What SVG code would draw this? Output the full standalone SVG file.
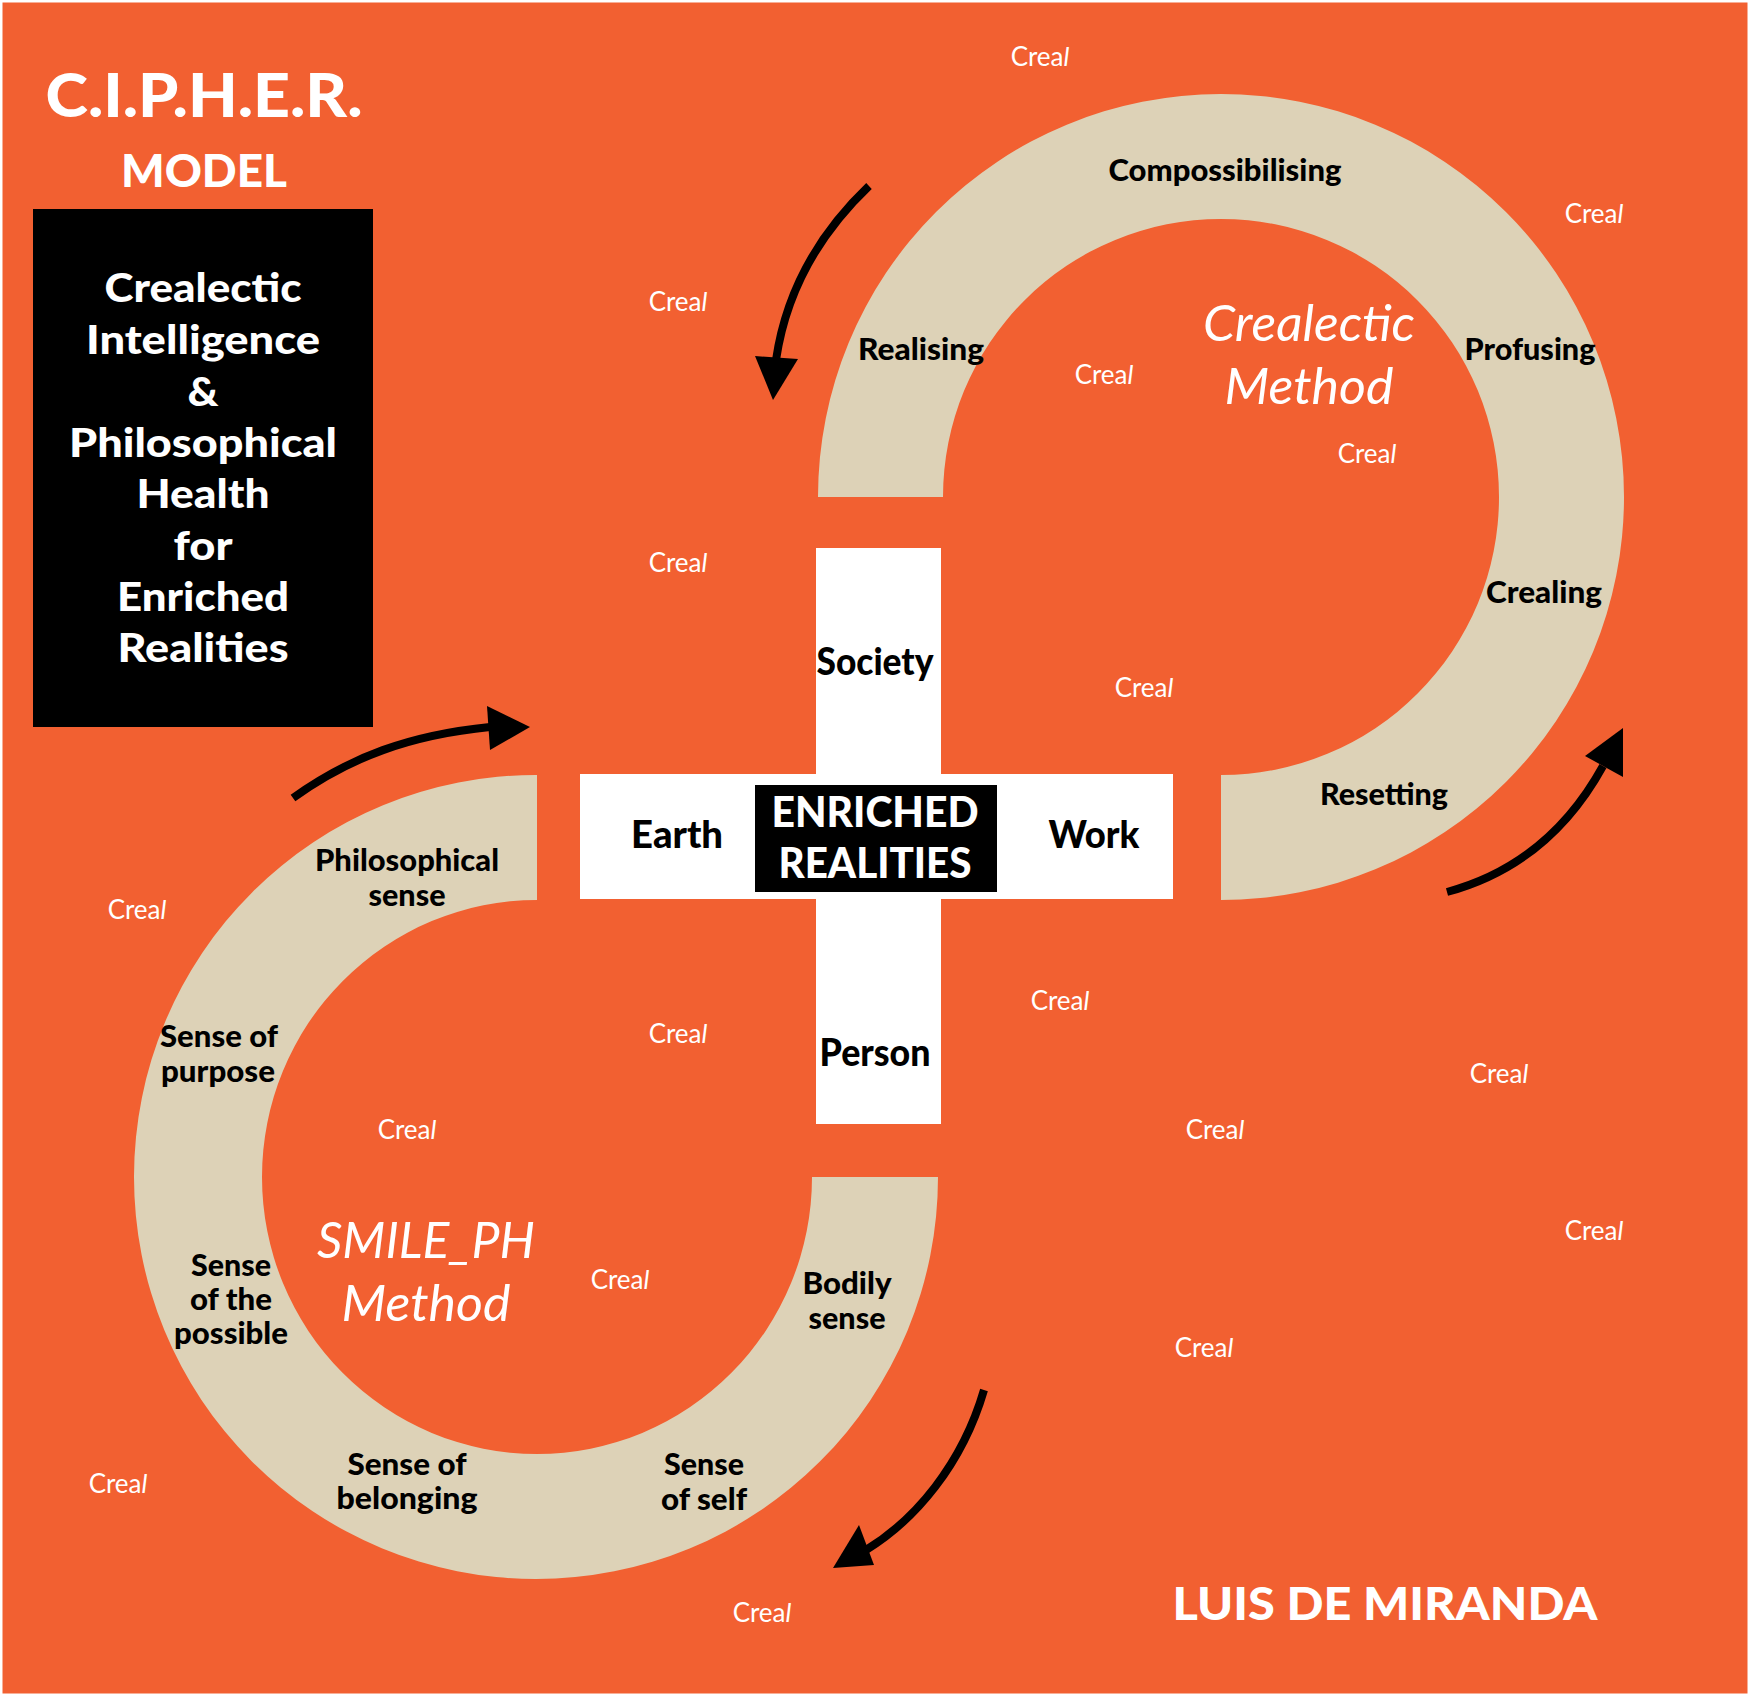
<svg xmlns="http://www.w3.org/2000/svg" width="1750" height="1696" viewBox="0 0 1750 1696">
<style>
text{font-family:Lato,"Liberation Sans",sans-serif;text-anchor:middle}
.w{fill:#fff;font-weight:900}
.l{fill:#000;font-weight:900;font-size:30px}
.b{fill:#000;font-weight:900;font-size:37px}
.t{fill:#fff;font-weight:900;font-size:40px}
.c{fill:#fff;font-size:26px;font-weight:400}
.c tspan{font-style:italic}
.m{fill:#fff;font-size:50px;font-style:italic;font-weight:400}
.ring{fill:#DDD2B7}
.cross{fill:#fff}
.stem{fill:none;stroke:#000;stroke-width:8}
.head{fill:#000}
</style>
<rect width="1750" height="1696" fill="#fff"/>
<rect x="2.5" y="2.5" width="1745" height="1691" fill="#F26031"/>
<g id="title">
<text class="w" x="204" y="117" font-size="60" textLength="317" lengthAdjust="spacingAndGlyphs">C.I.P.H.E.R.</text>
<text class="w" x="204" y="187" font-size="45" textLength="166" lengthAdjust="spacingAndGlyphs">MODEL</text>
</g>
<g id="title-box">
<rect x="33" y="209" width="340" height="518" fill="#000"/>
<text class="t" x="203" y="302" textLength="197" lengthAdjust="spacingAndGlyphs">Crealectic</text>
<text class="t" x="203" y="354" textLength="234" lengthAdjust="spacingAndGlyphs">Intelligence</text>
<text class="t" x="203" y="406" textLength="31" lengthAdjust="spacingAndGlyphs">&amp;</text>
<text class="t" x="203" y="457" textLength="268" lengthAdjust="spacingAndGlyphs">Philosophical</text>
<text class="t" x="203" y="508" textLength="133" lengthAdjust="spacingAndGlyphs">Health</text>
<text class="t" x="203" y="560" textLength="59" lengthAdjust="spacingAndGlyphs">for</text>
<text class="t" x="203" y="611" textLength="172" lengthAdjust="spacingAndGlyphs">Enriched</text>
<text class="t" x="203" y="662" textLength="171" lengthAdjust="spacingAndGlyphs">Realities</text>
</g>
<g id="crealectic-ring">
<path class="ring" d="M818 497A403 403 0 1 1 1221 900V775A278 278 0 1 0 943 497Z"/>
<text class="l" x="1225" y="181" textLength="233" lengthAdjust="spacingAndGlyphs">Compossibilising</text>
<text class="l" x="921" y="360" textLength="126" lengthAdjust="spacingAndGlyphs">Realising</text>
<text class="l" x="1530" y="360" textLength="131" lengthAdjust="spacingAndGlyphs">Profusing</text>
<text class="l" x="1544" y="603" textLength="116" lengthAdjust="spacingAndGlyphs">Crealing</text>
<text class="l" x="1384" y="805" textLength="128" lengthAdjust="spacingAndGlyphs">Resetting</text>
<text class="m" x="1309" y="341" textLength="212" lengthAdjust="spacingAndGlyphs">Crealectic</text>
<text class="m" x="1309" y="404" textLength="169" lengthAdjust="spacingAndGlyphs">Method</text>
</g>
<g id="smile-ring">
<path class="ring" d="M537 775A402 402 0 1 0 938 1177H812A275 277 0 1 1 537 900Z"/>
<text class="l" x="407" y="871" textLength="184" lengthAdjust="spacingAndGlyphs">Philosophical</text>
<text class="l" x="407" y="906" textLength="77" lengthAdjust="spacingAndGlyphs">sense</text>
<text class="l" x="219" y="1047" textLength="118" lengthAdjust="spacingAndGlyphs">Sense of</text>
<text class="l" x="218" y="1082" textLength="114" lengthAdjust="spacingAndGlyphs">purpose</text>
<text class="l" x="231" y="1276" textLength="80" lengthAdjust="spacingAndGlyphs">Sense</text>
<text class="l" x="231" y="1310" textLength="82" lengthAdjust="spacingAndGlyphs">of the</text>
<text class="l" x="231" y="1344" textLength="114" lengthAdjust="spacingAndGlyphs">possible</text>
<text class="l" x="407" y="1475" textLength="119" lengthAdjust="spacingAndGlyphs">Sense of</text>
<text class="l" x="407" y="1509" textLength="141" lengthAdjust="spacingAndGlyphs">belonging</text>
<text class="l" x="704" y="1475" textLength="80" lengthAdjust="spacingAndGlyphs">Sense</text>
<text class="l" x="704" y="1510" textLength="86" lengthAdjust="spacingAndGlyphs">of self</text>
<text class="l" x="847" y="1294" textLength="89" lengthAdjust="spacingAndGlyphs">Bodily</text>
<text class="l" x="847" y="1329" textLength="77" lengthAdjust="spacingAndGlyphs">sense</text>
<text class="m" x="426" y="1258" textLength="218" lengthAdjust="spacingAndGlyphs">SMILE_PH</text>
<text class="m" x="426" y="1321" textLength="169" lengthAdjust="spacingAndGlyphs">Method</text>
</g>
<g id="center-cross">
<rect class="cross" x="816" y="548" width="125" height="576"/>
<rect class="cross" x="580" y="774" width="593" height="125"/>
<text class="b" x="875" y="675" textLength="117" lengthAdjust="spacingAndGlyphs">Society</text>
<text class="b" x="677" y="848" textLength="92" lengthAdjust="spacingAndGlyphs">Earth</text>
<text class="b" x="1094" y="848" textLength="91" lengthAdjust="spacingAndGlyphs">Work</text>
<text class="b" x="875" y="1066" textLength="111" lengthAdjust="spacingAndGlyphs">Person</text>
</g>
<g id="enriched-realities">
<rect x="755" y="785" width="242" height="107" fill="#000"/>
<text class="w" x="875" y="827" font-size="42" textLength="207" lengthAdjust="spacingAndGlyphs">ENRICHED</text>
<text class="w" x="875" y="878" font-size="42" textLength="193" lengthAdjust="spacingAndGlyphs">REALITIES</text>
</g>
<g id="connectors">
<path class="stem" d="M869 186C825 228 787 285 776 360"/>
<polygon class="head" points="755,356 798,359 773,400"/>
<path class="stem" d="M293 798C350 757 410 735 490 727"/>
<polygon class="head" points="487,706 530,727 490,750"/>
<path class="stem" d="M1447 892C1510 875 1565 835 1603 766"/>
<polygon class="head" points="1623,728 1585,756 1623,777"/>
<path class="stem" d="M984 1390C962 1465 915 1520 866 1550"/>
<polygon class="head" points="833,1568 874,1565 859,1525"/>
</g>
<g id="creal-labels">
<text class="c" x="1040" y="66">Crea<tspan>l</tspan></text>
<text class="c" x="1594" y="223">Crea<tspan>l</tspan></text>
<text class="c" x="678" y="311">Crea<tspan>l</tspan></text>
<text class="c" x="1104" y="384">Crea<tspan>l</tspan></text>
<text class="c" x="1367" y="463">Crea<tspan>l</tspan></text>
<text class="c" x="678" y="572">Crea<tspan>l</tspan></text>
<text class="c" x="1144" y="697">Crea<tspan>l</tspan></text>
<text class="c" x="137" y="919">Crea<tspan>l</tspan></text>
<text class="c" x="678" y="1043">Crea<tspan>l</tspan></text>
<text class="c" x="1060" y="1010">Crea<tspan>l</tspan></text>
<text class="c" x="1499" y="1083">Crea<tspan>l</tspan></text>
<text class="c" x="407" y="1139">Crea<tspan>l</tspan></text>
<text class="c" x="1215" y="1139">Crea<tspan>l</tspan></text>
<text class="c" x="1594" y="1240">Crea<tspan>l</tspan></text>
<text class="c" x="620" y="1289">Crea<tspan>l</tspan></text>
<text class="c" x="1204" y="1357">Crea<tspan>l</tspan></text>
<text class="c" x="118" y="1493">Crea<tspan>l</tspan></text>
<text class="c" x="762" y="1622">Crea<tspan>l</tspan></text>
</g>
<g id="author">
<text class="w" x="1385" y="1620" font-size="46" textLength="425" lengthAdjust="spacingAndGlyphs">LUIS DE MIRANDA</text>
</g>
</svg>
